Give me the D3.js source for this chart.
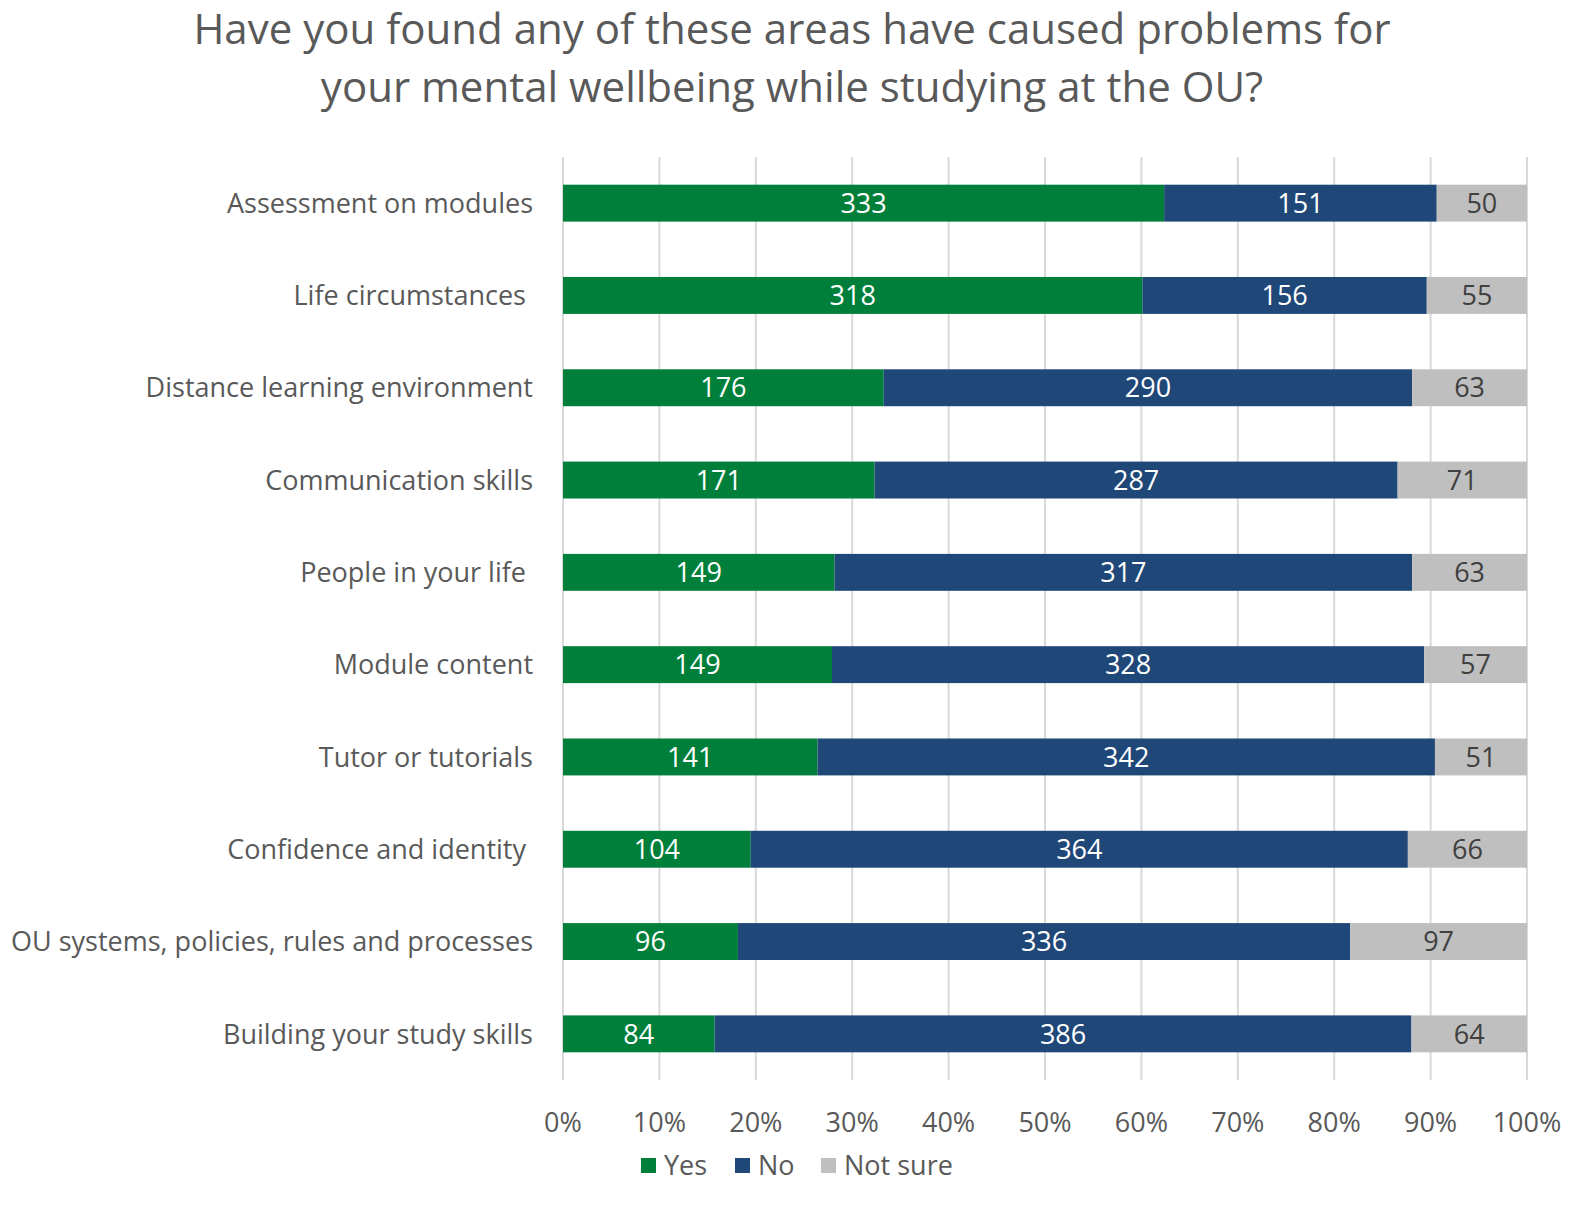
<!DOCTYPE html>
<html lang="en">
  <head>
    <meta charset="UTF-8" />
    <title>Mental wellbeing at the OU</title>
    <style>
      body { margin: 0; background: #fff; overflow: hidden; }
      svg { display: block; }
      text { font-family: "Open Sans", "Noto Sans", sans-serif; }
    </style>
  </head>
  <body>
    <script src="https://cdn.jsdelivr.net/npm/d3@7/dist/d3.min.js"></script>
    <script>
      // chart data
      var categories = [
        "Assessment on modules",
        "Life circumstances ",
        "Distance learning environment",
        "Communication skills",
        "People in your life ",
        "Module content",
        "Tutor or tutorials",
        "Confidence and identity ",
        "OU systems, policies, rules and processes",
        "Building your study skills"
      ];
      var yes = [333, 318, 176, 171, 149, 149, 141, 104, 96, 84];
      var no = [151, 156, 290, 287, 317, 328, 342, 364, 336, 386];
      var notSure = [50, 55, 63, 71, 63, 57, 51, 66, 97, 64];
      var seriesNames = ["Yes", "No", "Not sure"];
      var colors = ["#007f3b", "#1f4778", "#bfbfbf"];
      var labelColors = ["#ffffff", "#ffffff", "#404040"];
      var ticks = [0, 0.1, 0.2, 0.3, 0.4, 0.5, 0.6, 0.7, 0.8, 0.9, 1];

      var w = 1595, h = 1230;
      var margin = { top: 157, right: 68, bottom: 150, left: 563 };

      var svg = d3.select("body").append("svg")
                  .attr("width", w)
                  .attr("height", h);

      var rows = categories.map(function(c, i) {
        var total = yes[i] + no[i] + notSure[i];
        return { cat: c, vals: [yes[i], no[i], notSure[i]], total: total };
      });

      var xScale = d3.scaleLinear()
                     .domain([0, 1])
                     .range([margin.left, w - margin.right]);

      var yScale = d3.scaleBand()
                     .domain(categories)
                     .range([margin.top, h - margin.bottom])
                     .paddingInner(0.6)
                     .paddingOuter(0.3);

      // title
      svg.append("text")
         .attr("x", 792).attr("y", 44)
         .attr("text-anchor", "middle")
         .attr("font-size", 42)
         .attr("fill", "#595959")
         .text("Have you found any of these areas have caused problems for");
      svg.append("text")
         .attr("x", 792).attr("y", 102)
         .attr("text-anchor", "middle")
         .attr("font-size", 42)
         .attr("fill", "#595959")
         .text("your mental wellbeing while studying at the OU?");

      // gridlines
      svg.selectAll(".grid")
         .data(ticks)
         .enter().append("line")
         .attr("class", "grid")
         .attr("x1", function(d) { return xScale(d); })
         .attr("x2", function(d) { return xScale(d); })
         .attr("y1", margin.top)
         .attr("y2", h - margin.bottom)
         .attr("stroke", "#d9d9d9")
         .attr("stroke-width", 2);

      // bars
      var segs = [];
      rows.forEach(function(r) {
        var acc = 0;
        r.vals.forEach(function(v, k) {
          segs.push({ cat: r.cat, k: k, v: v, x0: acc / r.total, x1: (acc + v) / r.total });
          acc += v;
        });
      });

      svg.selectAll(".seg")
         .data(segs)
         .enter().append("rect")
         .attr("class", "seg")
         .attr("x", function(d) { return xScale(d.x0); })
         .attr("width", function(d) { return xScale(d.x1) - xScale(d.x0); })
         .attr("y", function(d) { return yScale(d.cat); })
         .attr("height", yScale.bandwidth())
         .attr("fill", function(d) { return colors[d.k]; });

      svg.selectAll(".seglabel")
         .data(segs)
         .enter().append("text")
         .attr("class", "seglabel")
         .attr("x", function(d) { return (xScale(d.x0) + xScale(d.x1)) / 2; })
         .attr("y", function(d) { return yScale(d.cat) + yScale.bandwidth() / 2; })
         .attr("dy", "0.36em")
         .attr("text-anchor", "middle")
         .attr("font-size", 27)
         .attr("fill", function(d) { return labelColors[d.k]; })
         .text(function(d) { return d.v; });

      // category labels
      svg.selectAll(".cat")
         .data(categories)
         .enter().append("text")
         .attr("class", "cat")
         .attr("x", margin.left - 30)
         .attr("y", function(d) { return yScale(d) + yScale.bandwidth() / 2; })
         .attr("dy", "0.36em")
         .attr("text-anchor", "end")
         .attr("font-size", 27)
         .attr("fill", "#595959")
         .style("white-space", "pre")
         .text(function(d) { return d; });

      // x axis labels
      svg.selectAll(".tick-label")
         .data(ticks)
         .enter().append("text")
         .attr("class", "tick-label")
         .attr("x", function(d) { return xScale(d); })
         .attr("y", 1122)
         .attr("dy", "0.36em")
         .attr("text-anchor", "middle")
         .attr("font-size", 27)
         .attr("fill", "#595959")
         .text(function(d) { return d3.format(".0%")(d); });

      // legend
      var legendX = [641, 735, 821];
      var lg = svg.selectAll(".legend")
                  .data(seriesNames)
                  .enter().append("g")
                  .attr("class", "legend")
                  .attr("transform", function(d, i) { return "translate(" + legendX[i] + ",1165)"; });
      lg.append("rect")
        .attr("x", 0).attr("y", -7)
        .attr("width", 15).attr("height", 15)
        .attr("fill", function(d, i) { return colors[i]; });
      lg.append("text")
        .attr("x", 23)
        .attr("dy", "0.36em")
        .attr("font-size", 27)
        .attr("fill", "#595959")
        .text(function(d) { return d; });
    </script>
  </body>
</html>
